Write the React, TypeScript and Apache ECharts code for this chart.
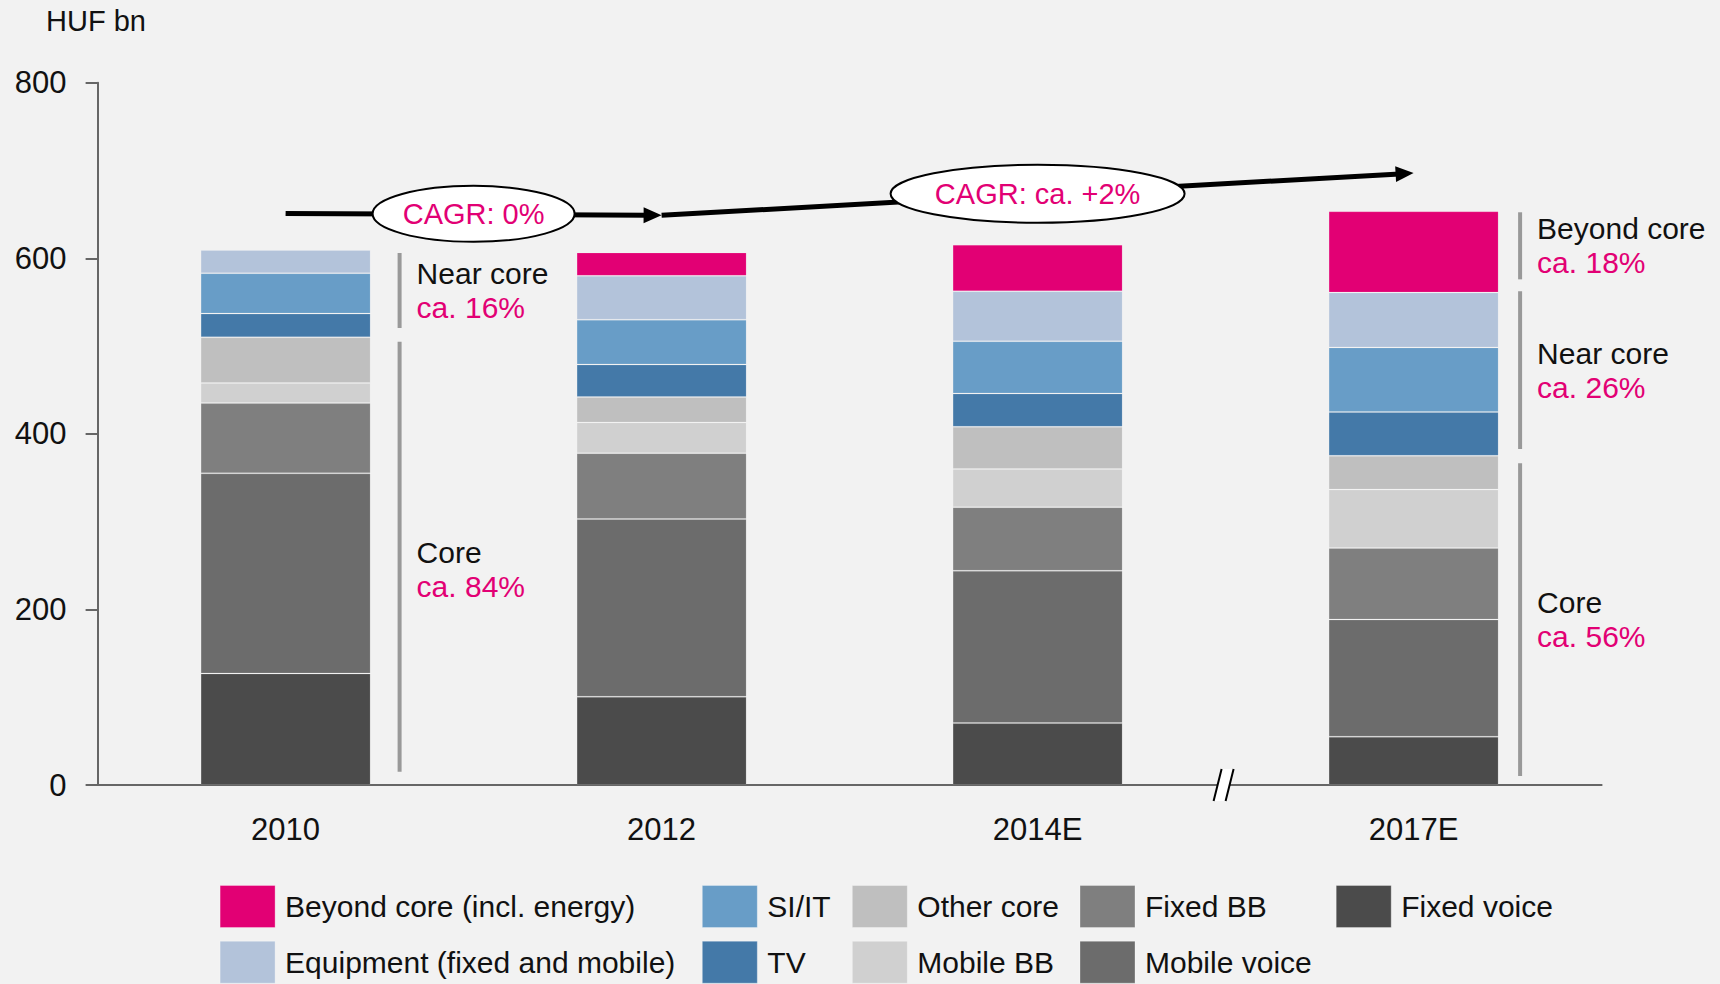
import React, { useEffect, useRef } from "react";
import * as echarts from "echarts";

// ---------- data ----------
const categories = ["2010", "2012", "2014E", "2017E"];
const fixedVoice = [127, 100.5, 70.5, 55];
const mobileVoice = [228, 202.5, 173.5, 133.5];
const fixedBB = [80, 75, 72.5, 81.5];
const mobileBB = [23, 35, 43.5, 66.5];
const otherCore = [52, 29, 48, 38.5];
const tvValues = [27, 37, 38, 50];
const siItValues = [46, 51, 59.5, 73.5];
const equipment = [26.5, 50, 57, 62.5];
const beyondCore = [0, 26.5, 53, 92.5];

const yMin = 0;
const yMax = 800;
const yStep = 200;

// CAGR arrows: [category, value] from -> to ; label ellipse anchor
const cagrLabels = ["CAGR: 0%", "CAGR: ca. +2%"];
const cagrFrom = [[0, 651], [1, 649]];
const cagrTo = [[1, 649], [3, 697]];
const cagrLabelAt = [[0.5, 650.6], [2, 673.4]];

// group brackets: category, from value, to value, name, share
const groupCats = [0, 0, 3, 3, 3];
const groupFrom = [520.6, 15.2, 576, 382.7, 10.3];
const groupTo = [606, 505, 652.4, 562.4, 366.4];
const groupNames = ["Near core", "Core", "Beyond core", "Near core", "Core"];
const groupShares = ["ca. 16%", "ca. 84%", "ca. 18%", "ca. 26%", "ca. 56%"];

const legendColumns = [
  ["Beyond core (incl. energy)", "Equipment (fixed and mobile)"],
  ["SI/IT", "TV"],
  ["Other core", "Mobile BB"],
  ["Fixed BB", "Mobile voice"],
  ["Fixed voice"],
];

// ---------- styles ----------
const FONT = '"Liberation Sans", Arial, sans-serif';
const MAGENTA = "#E20074";
const legendLeft = [219.6, 701.8, 851.8, 1079.5, 1335.7];
const legendTop = [885, 940.7];
const groupLabelShift = [0, 13, 0, 0, 0];

const seriesDefs = [
  { name: "Fixed voice", data: fixedVoice, color: "#4B4B4B" },
  { name: "Mobile voice", data: mobileVoice, color: "#6C6C6C" },
  { name: "Fixed BB", data: fixedBB, color: "#7F7F7F" },
  { name: "Mobile BB", data: mobileBB, color: "#D0D0D0" },
  { name: "Other core", data: otherCore, color: "#BFBFBF" },
  { name: "TV", data: tvValues, color: "#4479A8" },
  { name: "SI/IT", data: siItValues, color: "#689DC7" },
  { name: "Equipment (fixed and mobile)", data: equipment, color: "#B3C3DA" },
  { name: "Beyond core (incl. energy)", data: beyondCore, color: MAGENTA },
];

export default function App() {
  const ref = useRef<HTMLDivElement>(null);

  useEffect(() => {
    if (!ref.current) return;
    const chart = echarts.init(ref.current, undefined, { renderer: "svg" });

    const legends: any[] = [];
    legendColumns.forEach((col, ci) => {
      col.forEach((name, ri) => {
        legends.push({
          orient: "horizontal",
          left: legendLeft[ci],
          top: legendTop[ri],
          padding: 0,
          itemWidth: 55,
          itemHeight: 42,
          icon: "rect",
          selectedMode: false,
          data: [name],
          itemStyle: { borderColor: "rgba(255,255,255,0.3)", borderWidth: 1 },
          textStyle: { fontSize: 30, color: "#111", fontFamily: FONT, padding: [0, 0, 0, 5] },
        });
      });
    });

    const option: any = {
      animation: false,
      backgroundColor: "#F2F2F2",
      textStyle: { fontFamily: FONT },
      title: {
        text: "HUF bn",
        left: 46,
        top: 6,
        padding: 0,
        textStyle: { fontFamily: FONT, fontSize: 29, fontWeight: "normal", color: "#111" },
      },
      grid: { left: 97.6, right: 118.4, top: 82.7, bottom: 199, containLabel: false },
      xAxis: {
        type: "category",
        data: categories,
        axisLine: { lineStyle: { color: "#666", width: 2 } },
        axisTick: { show: false },
        axisLabel: { fontSize: 31, color: "#111", margin: 29, fontFamily: FONT },
      },
      yAxis: {
        type: "value",
        min: yMin,
        max: yMax,
        interval: yStep,
        axisLine: { show: true, lineStyle: { color: "#666", width: 2 } },
        axisTick: { show: true, length: 12, lineStyle: { color: "#666", width: 2 } },
        splitLine: { show: false },
        axisLabel: { fontSize: 31, color: "#111", margin: 31, fontFamily: FONT },
      },
      legend: legends,
      series: seriesDefs.map((s) => ({
        name: s.name,
        type: "bar",
        stack: "total",
        barWidth: 170,
        data: s.data.map((v) => (v === 0 ? "-" : v)),
        itemStyle: { color: s.color, borderColor: "rgba(255,255,255,0.13)", borderWidth: 1 },
      })),
    };
    chart.setOption(option);

    const px = (c: number, v: number): number[] => {
      const lo = Math.floor(c);
      const hi = Math.ceil(c);
      const a = chart.convertToPixel({ gridIndex: 0 }, [lo, v]) as number[];
      if (lo === hi) return a;
      const b = chart.convertToPixel({ gridIndex: 0 }, [hi, v]) as number[];
      const t = c - lo;
      return [a[0] + (b[0] - a[0]) * t, a[1] + (b[1] - a[1]) * t];
    };

    const elements: any[] = [];

    // CAGR arrows
    cagrFrom.forEach((f, i) => {
      const p0 = px(f[0], f[1]);
      const p1 = px(cagrTo[i][0], cagrTo[i][1]);
      const dx = p1[0] - p0[0];
      const dy = p1[1] - p0[1];
      const len = Math.sqrt(dx * dx + dy * dy);
      const ux = dx / len;
      const uy = dy / len;
      const nx = -uy;
      const ny = ux;
      const headLen = 18;
      const headW = 8;
      const bx = p1[0] - ux * headLen;
      const by = p1[1] - uy * headLen;
      elements.push({
        type: "line",
        z: 10,
        shape: { x1: p0[0], y1: p0[1], x2: bx + ux * 4, y2: by + uy * 4 },
        style: { stroke: "#000", lineWidth: 5 },
      });
      elements.push({
        type: "polygon",
        z: 10,
        shape: {
          points: [
            [p1[0], p1[1]],
            [bx + nx * headW, by + ny * headW],
            [bx - nx * headW, by - ny * headW],
          ],
        },
        style: { fill: "#000" },
      });
    });

    cagrLabels.forEach((label, i) => {
      const c = px(cagrLabelAt[i][0], cagrLabelAt[i][1]);
      const rx = i === 0 ? 101 : 147;
      const ry = i === 0 ? 28 : 29;
      elements.push({
        type: "ellipse",
        z: 11,
        shape: { cx: c[0], cy: c[1], rx, ry },
        style: { fill: "#fff", stroke: "#000", lineWidth: 2 },
      });
      elements.push({
        type: "text",
        z: 12,
        x: c[0],
        y: c[1],
        style: {
          text: label,
          fill: MAGENTA,
          fontSize: 29,
          fontFamily: FONT,
          align: "center",
          verticalAlign: "middle",
        },
      });
    });

    // group brackets and labels
    groupCats.forEach((cat, i) => {
      const top = px(cat, groupTo[i]);
      const bot = px(cat, groupFrom[i]);
      const xOff = cat === 0 ? 114 : 106.5;
      const x = top[0] + xOff;
      elements.push({
        type: "line",
        z: 5,
        shape: { x1: x, y1: top[1], x2: x, y2: bot[1] },
        style: { stroke: "#999", lineWidth: 4 },
      });
      const mid = (top[1] + bot[1]) / 2 + groupLabelShift[i];
      elements.push({
        type: "text",
        z: 5,
        x: x + 17,
        y: mid - 17,
        style: {
          text: groupNames[i],
          fill: "#111",
          fontSize: 30,
          fontFamily: FONT,
          align: "left",
          verticalAlign: "middle",
        },
      });
      elements.push({
        type: "text",
        z: 5,
        x: x + 17,
        y: mid + 17,
        style: {
          text: groupShares[i],
          fill: MAGENTA,
          fontSize: 30,
          fontFamily: FONT,
          align: "left",
          verticalAlign: "middle",
        },
      });
    });

    // axis break between 2014E and 2017E
    const br = px(2.5, 0);
    const bxc = br[0] - 2;
    const byc = br[1];
    elements.push({
      type: "polygon",
      z: 20,
      shape: {
        points: [
          [bxc - 10, byc + 16],
          [bxc - 2, byc - 16],
          [bxc + 10, byc - 16],
          [bxc + 2, byc + 16],
        ],
      },
      style: { fill: "#fff" },
    });
    elements.push({
      type: "line",
      z: 21,
      shape: { x1: bxc - 10, y1: byc + 16, x2: bxc - 2, y2: byc - 16 },
      style: { stroke: "#000", lineWidth: 2 },
    });
    elements.push({
      type: "line",
      z: 21,
      shape: { x1: bxc + 2, y1: byc + 16, x2: bxc + 10, y2: byc - 16 },
      style: { stroke: "#000", lineWidth: 2 },
    });

    chart.setOption({ graphic: elements });

    return () => chart.dispose();
  }, []);

  return (
    <div
      ref={ref}
      style={{ position: "fixed", left: 0, top: 0, width: 1720, height: 984 }}
    />
  );
}
